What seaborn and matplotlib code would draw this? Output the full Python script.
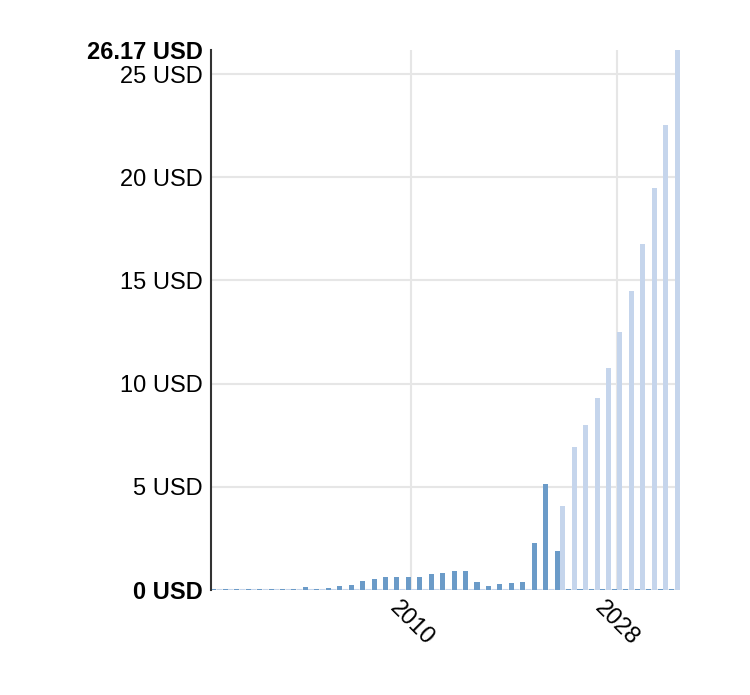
import matplotlib
matplotlib.use("Agg")
from matplotlib import pyplot as plt
import numpy as np
import pandas as pd
import seaborn as sns

years = list(range(1993, 2034))

# historical values (1993-2023), tiny placeholders afterwards
history = [0.07, 0.07, 0.07, 0.07, 0.07, 0.07, 0.07, 0.07, 0.13, 0.07,
           0.09, 0.17, 0.26, 0.44, 0.53, 0.61, 0.61, 0.61, 0.65, 0.78,
           0.84, 0.93, 0.94, 0.40, 0.21, 0.27, 0.32, 0.40, 2.29, 5.14,
           1.89,
           0.07, 0.07, 0.07, 0.07, 0.07, 0.07, 0.07, 0.07, 0.07, 0.07]

# forecast values (2023-2033), tiny placeholders before
forecast = [0.07] * 30 + [4.07, 6.91, 8.01, 9.30, 10.77, 12.50, 14.49,
                          16.79, 19.46, 22.54, 26.17]

y_max = 26.17
y_ticks = [0, 5, 10, 15, 20, 25, 26.17]
y_labels = ["0 USD", "5 USD", "10 USD", "15 USD", "20 USD", "25 USD", "26.17 USD"]
x_tick_years = ["2010", "2028"]

df = pd.DataFrame({
    "year": [str(y) for y in years] * 2,
    "value": history + forecast,
    "series": ["history"] * len(years) + ["forecast"] * len(years),
})

sns.set_style("white")
plt.rcParams["font.family"] = ["Liberation Sans", "DejaVu Sans"]
plt.rcParams["text.color"] = "black"
plt.rcParams["xtick.color"] = "black"
plt.rcParams["ytick.color"] = "black"

fig = plt.figure(figsize=(7.5, 6.95), dpi=100)
ax = fig.add_axes([0.2813, 0.1511, 0.6254, 0.777])

sns.barplot(data=df, x="year", y="value", hue="series",
            order=[str(y) for y in years], hue_order=["history", "forecast"],
            palette={"history": "#6b9bc8", "forecast": "#c5d5ec"},
            width=0.98, gap=0.1, saturation=1, legend=False,
            linewidth=0, edgecolor="none", ax=ax)

ax.set_ylim(0, y_max)
ax.set_xlim(-0.5, len(years) - 0.5)

ax.set_yticks(y_ticks)
ax.set_yticklabels(y_labels, fontsize=17)
for lbl in ax.get_yticklabels():
    if lbl.get_text() in ("0 USD", "26.17 USD"):
        lbl.set_fontweight("bold")

pos = [years.index(int(y)) for y in x_tick_years]
ax.set_xticks(pos)
ax.set_xticklabels(x_tick_years, fontsize=17, rotation=-45, ha="center", va="top")

ax.tick_params(axis="both", length=0, pad=6)
ax.tick_params(axis="x", pad=5)

ax.grid(True, color="#e6e6e6", linewidth=1.5)
ax.set_axisbelow(True)
ax.yaxis.get_gridlines()[-1].set_visible(False)

for s in ["top", "right", "bottom"]:
    ax.spines[s].set_visible(False)
ax.spines["left"].set_color("#333333")
ax.spines["left"].set_linewidth(1.5)

ax.set_xlabel("")
ax.set_ylabel("")

fig.savefig("out.png", dpi=100)
